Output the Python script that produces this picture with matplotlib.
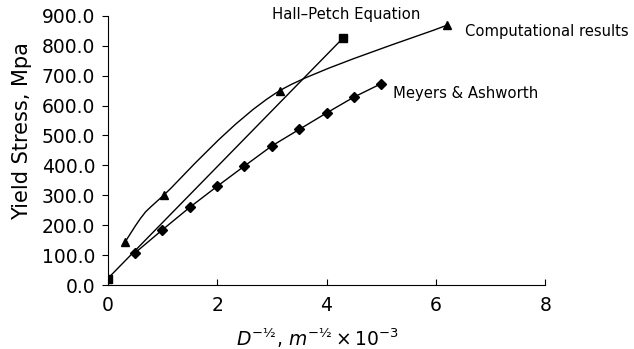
import numpy as np
import matplotlib
matplotlib.use('Agg')
import matplotlib.pyplot as plt
from matplotlib.path import Path
from matplotlib.patches import PathPatch

plt.rcParams['font.family'] = ['DejaVu Sans']
plt.rcParams['mathtext.fontset'] = 'custom'
plt.rcParams['mathtext.rm'] = 'DejaVu Sans'
plt.rcParams['mathtext.it'] = 'DejaVu Sans:italic'

# data
hp_x = [0.0, 4.3]
hp_y = [22, 825]

# computational line has an unmarked vertex near x=0.65
comp_line_x = [0.32, 0.65, 1.02, 3.15, 6.2]
comp_line_y = [145, 235, 300, 650, 868]
comp_x = [0.32, 1.02, 3.15, 6.2]
comp_y = [145, 300, 650, 868]

ma_x = [0.5, 1.0, 1.5, 2.0, 2.5, 3.0, 3.5, 4.0, 4.5, 5.0]
ma_y = [108, 185, 260, 330, 398, 465, 520, 575, 628, 673]

x_ticks = [0, 2, 4, 6, 8]
y_ticks = [0, 100, 200, 300, 400, 500, 600, 700, 800, 900]


def smooth_path(xs, ys):
    # bezier through the points, like a spreadsheet smoothed line
    pts = np.column_stack([xs, ys]).astype(float)
    verts = [pts[0]]
    codes = [Path.MOVETO]
    n = len(pts)
    for i in range(n - 1):
        p0 = pts[i - 1] if i > 0 else pts[i]
        p1 = pts[i]
        p2 = pts[i + 1]
        p3 = pts[i + 2] if i + 2 < n else pts[i + 1]
        c1 = p1 + (p2 - p0) / 8.0
        c2 = p2 - (p3 - p1) / 6.0
        verts += [c1, c2, p2]
        codes += [Path.CURVE4] * 3
    return Path(verts, codes)


fig = plt.figure(figsize=(6.34, 3.49), dpi=100)
ax = fig.add_axes([0.170, 0.183, 0.690, 0.772])

ax.plot(hp_x, hp_y, color='black', lw=1.0, marker='s', ms=5.5)

ax.add_patch(PathPatch(smooth_path(comp_line_x, comp_line_y), facecolor='none',
                       edgecolor='black', lw=1.0))
ax.plot(comp_x, comp_y, ls='none', color='black', marker='^', ms=6)

ax.plot(ma_x, ma_y, color='black', lw=1.0, marker='D', ms=5)

ax.text(3.0, 905, 'Hall\u2013Petch Equation', fontsize=10.7, va='center', ha='left')
ax.text(6.54, 846, 'Computational results', fontsize=10.6, va='center', ha='left')
ax.text(5.22, 640, 'Meyers & Ashworth', fontsize=10.7, va='center', ha='left')

ax.set_xlim(0, 8)
ax.set_ylim(0, 900)
ax.set_xticks(x_ticks)
ax.set_yticks(y_ticks)
ax.set_yticklabels([f'{v:.1f}' for v in y_ticks])
ax.tick_params(axis='x', direction='in', labelsize=13.5, pad=8, length=4)
ax.tick_params(axis='y', direction='out', labelsize=13.5, length=4, pad=5)
for s in ['top', 'right']:
    ax.spines[s].set_visible(False)

ax.set_ylabel('Yield Stress, Mpa', fontsize=15)
ax.yaxis.set_label_coords(-0.174, 0.572)
ax.set_xlabel(r'$\mathit{D}^{-½}\mathrm{,}\ \mathit{m}^{-½}\times\mathrm{10}^{-3}$',
              fontsize=13.5)
ax.xaxis.set_label_coords(0.48, -0.15)

plt.savefig('out.png', dpi=100)
plt.close()
